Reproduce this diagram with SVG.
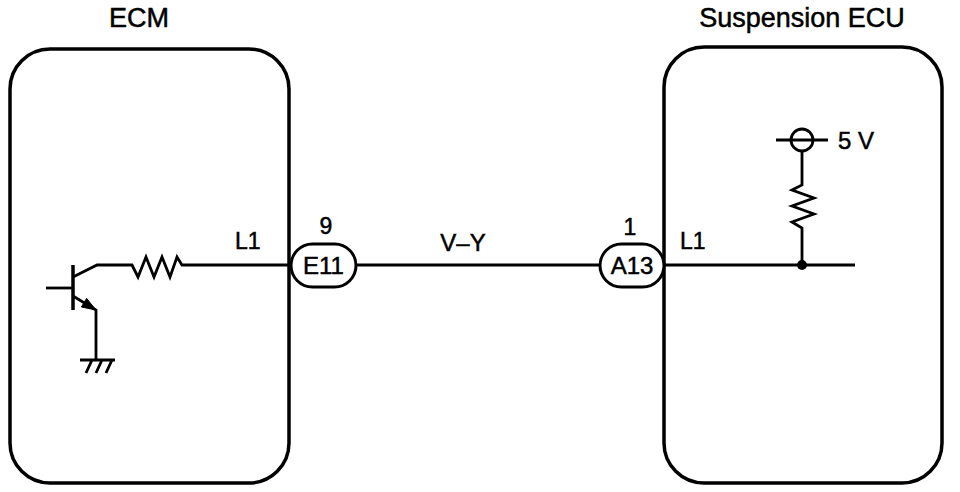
<svg xmlns="http://www.w3.org/2000/svg" width="960" height="492" viewBox="0 0 960 492">
<style>
.box{fill:none;stroke:#000;stroke-width:3.5}
.w{fill:none;stroke:#000;stroke-width:2.8;stroke-linejoin:miter}
.conn{fill:#fff;stroke:#000;stroke-width:3}
text{font-family:"Liberation Sans",Arial,sans-serif;fill:#000;stroke:#000;stroke-width:0.5}
.t{font-size:27px}
.l{font-size:23px}
.p{font-size:23px}
.c{font-size:24px}
</style>
<rect width="960" height="492" fill="#fff"/>
<g id="connectors">
<path class="w" d="M46,288 H73"/>
<path class="w" d="M73,277 L97,265 H132 L138,277 L146,257 L154,277 L162,257 L170,277 L177,257 L182,265 H293"/>
<path class="w" d="M73,296 L96,310 V360"/>
<path class="w" d="M80,360 H115 M92,360 L86,373 M102,360 L96,373 M112,360 L106,373"/>
<path class="w" d="M356,265 H601"/>
<path class="w" d="M663,265 H855"/>
<path class="w" d="M776,140 H828"/>
<path class="w" d="M802,151 V185 L792,190 L814,198 L792,206 L814,214 L792,222 L802,228 V265"/>
</g>
<g id="ecm">
<rect class="box" x="10" y="49" width="279" height="434" rx="40" ry="40"/>
<text class="t" x="139" y="27" text-anchor="middle">ECM</text>
<path d="M73,265 V310" stroke="#000" stroke-width="3.5" fill="none"/>
<polygon points="96,310 81.4,307 86.6,298.4" fill="#000" stroke="#000" stroke-width="1"/>
<text class="l" x="235" y="249">L1</text>
</g>
<g id="suspension-ecu">
<rect class="box" x="664" y="47" width="278" height="436" rx="40" ry="40"/>
<text class="t" x="802" y="27" text-anchor="middle">Suspension ECU</text>
<circle cx="802" cy="140" r="11" fill="none" stroke="#000" stroke-width="2.8"/>
<text class="c" x="838" y="149">5 V</text>
<circle cx="802" cy="265" r="5" fill="#000"/>
<text class="l" x="680" y="249">L1</text>
</g>
<g id="e11">
<rect class="conn" x="291" y="244" width="65" height="43" rx="21.5" ry="21.5"/>
<text class="c" x="323.5" y="274" text-anchor="middle">E11</text>
<text class="p" x="326" y="234" text-anchor="middle">9</text>
</g>
<g id="a13">
<rect class="conn" x="600" y="244" width="64" height="43" rx="21.5" ry="21.5"/>
<text class="c" x="632" y="274" text-anchor="middle">A13</text>
<text class="p" x="630" y="235" text-anchor="middle">1</text>
</g>
<g id="wire-label">
<text class="c" x="463" y="251" text-anchor="middle" font-size="25">V–Y</text>
</g>
</svg>
